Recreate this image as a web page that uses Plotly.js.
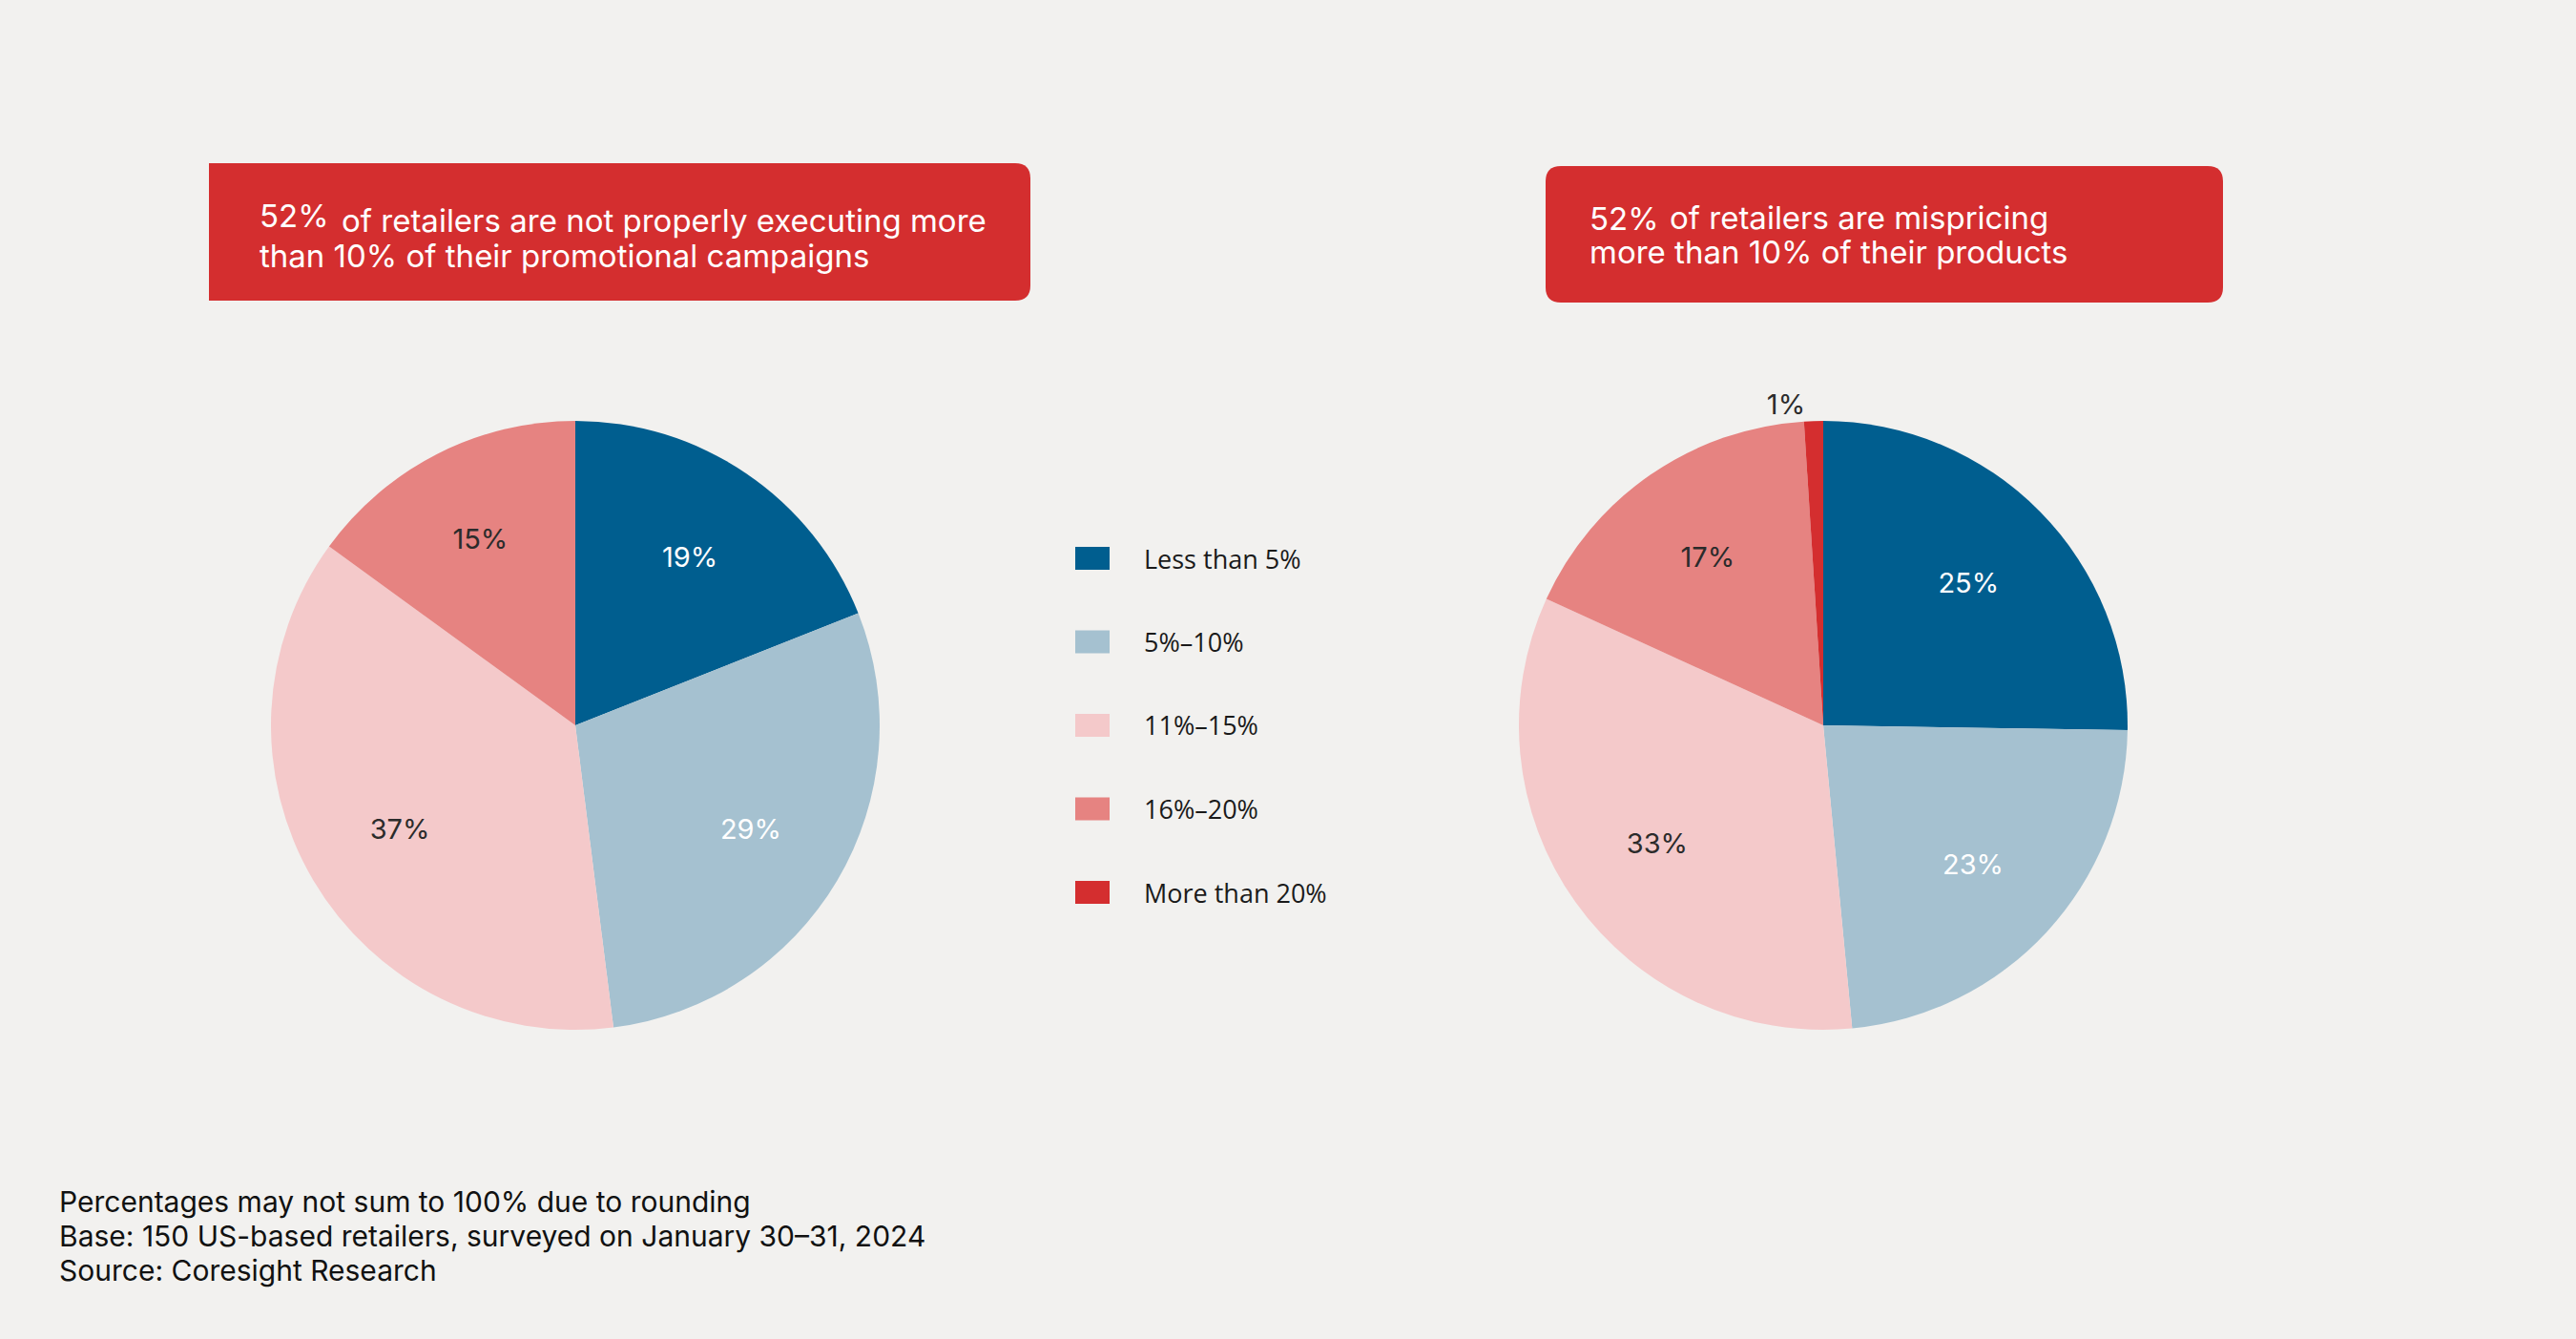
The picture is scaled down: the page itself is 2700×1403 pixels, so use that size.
<!DOCTYPE html>
<html><head><meta charset="utf-8">
<script src="https://cdn.plot.ly/plotly-3.0.1.min.js"></script>
<style>html,body{margin:0;padding:0;background:#F2F1EF;}</style>
</head><body>
<div id="chart" style="width:2700px;height:1403px;"></div>
<script>
// ---------- data ----------
const categories = ['Less than 5%', '5%–10%', '11%–15%', '16%–20%', 'More than 20%'];
const promoCategories = ['Less than 5%', '5%–10%', '11%–15%', '16%–20%'];
const promoValues = [19, 29, 37, 15];
const pricingValues = [25, 23, 33, 17, 1];
const sliceColors = ['#005E8F', '#A5C1D0', '#F4C9CA', '#E68381', '#D42E2F'];
const labelColors = ['#FFFFFF', '#FFFFFF', '#2B2B2B', '#2B2B2B', '#2B2B2B'];
const leftStat = '52%';
const leftHeadline = ['of retailers are not properly executing more', 'than 10% of their promotional campaigns'];
const rightStat = '52%';
const rightHeadline = ['of retailers are mispricing', 'more than 10% of their products'];
const notes = ['Percentages may not sum to 100% due to rounding',
               'Base: 150 US-based retailers, surveyed on January 30–31, 2024',
               'Source: Coresight Research'];

// ---------- layout helpers ----------
const W = 2700, H = 1403;
const px = x => x / W;
const py = y => 1 - y / H;
const BG = '#F2F1EF';
const RED = '#D42E2F';
const bannerFont = {family: 'Inter, Roboto, sans-serif', size: 33, color: '#FFFFFF'};
const labelFont = {family: 'Inter, Roboto, sans-serif', size: 29};

function roundedPath(x0, y0, x1, y1, r, roundLeft) {
  const P = (x, y) => px(x) + ',' + py(y);
  let d = roundLeft ? 'M' + P(x0 + r, y0) : 'M' + P(x0, y0);
  d += ' L' + P(x1 - r, y0) + ' Q' + P(x1, y0) + ' ' + P(x1, y0 + r);
  d += ' L' + P(x1, y1 - r) + ' Q' + P(x1, y1) + ' ' + P(x1 - r, y1);
  if (roundLeft) {
    d += ' L' + P(x0 + r, y1) + ' Q' + P(x0, y1) + ' ' + P(x0, y1 - r);
    d += ' L' + P(x0, y0 + r) + ' Q' + P(x0, y0) + ' ' + P(x0 + r, y0);
  } else {
    d += ' L' + P(x0, y1);
  }
  return d + ' Z';
}

function textAnn(text, x, y, font, xanchor) {
  return {text: text, x: px(x), y: py(y), xref: 'paper', yref: 'paper',
          xanchor: xanchor || 'left', yanchor: 'middle', showarrow: false, font: font};
}

// ---------- traces ----------
// each pie = a coloured slice layer + a transparent label layer (hole pushes the
// percentage labels outward, as in the original design)
function pieLayers(labels, values, domain, textpos) {
  const n = values.length;
  const base = {
    type: 'pie', labels: labels, values: values, sort: false, direction: 'clockwise',
    rotation: 0, showlegend: false, hoverinfo: 'label+value', textinfo: 'none',
    marker: {colors: sliceColors.slice(0, n), line: {width: 0}}, domain: domain
  };
  const text = {
    type: 'pie', labels: labels, values: values, sort: false, direction: 'clockwise',
    rotation: 0, hole: 0.34, showlegend: false, hoverinfo: 'skip',
    texttemplate: '%{value}%', insidetextorientation: 'horizontal',
    textposition: textpos,
    textfont: Object.assign({}, labelFont, {color: labelColors.slice(0, n)}),
    marker: {colors: values.map(() => 'rgba(0,0,0,0)'), line: {width: 0}}, domain: domain
  };
  return [base, text];
}

const leftDomain = {x: [px(284), px(922)], y: [py(1079), py(441)]};
const rightDomain = {x: [px(1592), px(2230)], y: [py(1079), py(441)]};
const traces = [].concat(
  pieLayers(promoCategories, promoValues, leftDomain, 'inside'),
  pieLayers(categories, pricingValues, rightDomain, ['inside', 'inside', 'inside', 'inside', 'outside'])
);

// ---------- shapes & annotations ----------
const shapes = [
  {type: 'path', xref: 'paper', yref: 'paper', path: roundedPath(219, 171, 1080, 315, 16, false),
   fillcolor: RED, line: {width: 0}, layer: 'below'},
  {type: 'path', xref: 'paper', yref: 'paper', path: roundedPath(1620, 174, 2330, 317, 16, true),
   fillcolor: RED, line: {width: 0}, layer: 'below'}
];

const annotations = [
  textAnn(leftStat, 270, 226, bannerFont),
  textAnn(leftHeadline[0], 356, 231, bannerFont),
  textAnn(leftHeadline[1], 270, 268, bannerFont),
  textAnn(rightStat, 1664, 229, bannerFont),
  textAnn(rightHeadline[0], 1748, 228, bannerFont),
  textAnn(rightHeadline[1], 1664, 264, bannerFont)
];

// legend (built from categories and colours)
const legendY0 = 585, legendStep = 87.5;
categories.forEach((c, i) => {
  const cy = legendY0 + i * legendStep;
  shapes.push({type: 'rect', xref: 'paper', yref: 'paper',
    x0: px(1127), x1: px(1163), y0: py(cy - 12), y1: py(cy + 12),
    fillcolor: sliceColors[i], line: {width: 0}});
  annotations.push(textAnn(c, 1197, cy, {family: '"Open Sans", sans-serif', size: 27, color: '#1A1A1A'}));
});

// footnotes
notes.forEach((n, i) => {
  annotations.push(textAnn(n, 60, 1259 + i * 36, {family: 'Inter, Roboto, sans-serif', size: 30, color: '#111111'}));
});

const layout = {
  width: W, height: H,
  margin: {l: 0, r: 0, t: 0, b: 0},
  paper_bgcolor: BG, plot_bgcolor: BG,
  showlegend: false,
  shapes: shapes,
  annotations: annotations
};

Plotly.newPlot('chart', traces, layout, {displayModeBar: false, staticPlot: true});
</script>
</body></html>
